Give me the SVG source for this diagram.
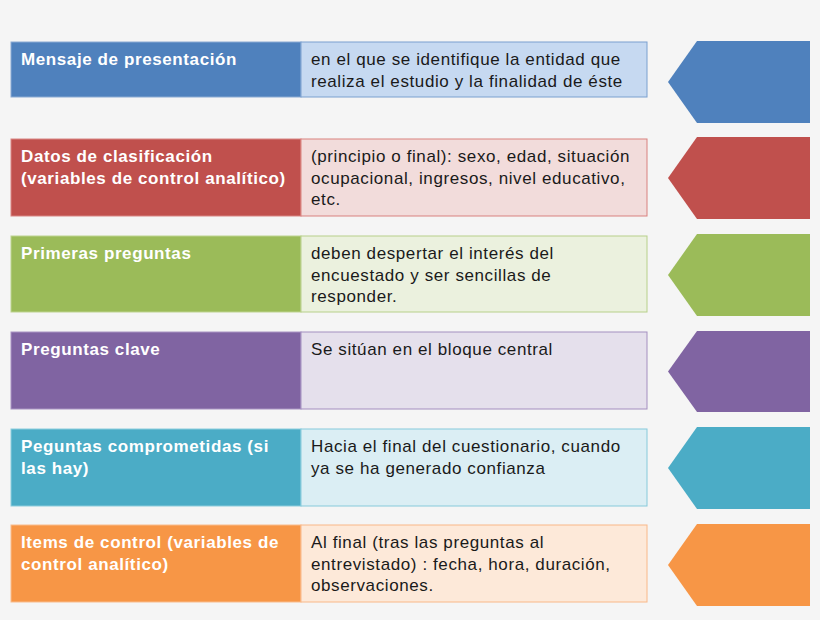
<svg xmlns="http://www.w3.org/2000/svg" width="820" height="620" viewBox="0 0 820 620">
<style>
.lbl{font-family:"Liberation Sans",Arial,sans-serif;font-size:17px;font-weight:bold;fill:#ffffff;letter-spacing:0.6px}
.txt{font-family:"Liberation Sans",Arial,sans-serif;font-size:17px;fill:#1a1a1a;letter-spacing:0.6px}
.b1{fill:#4F81BD}.l1{fill:#C6D9F1;stroke:#7BA0CF}
.b2{fill:#C0504D}.l2{fill:#F2DCDB;stroke:#D9817F}
.b3{fill:#9BBB59}.l3{fill:#EBF1DE;stroke:#B7D08A}
.b4{fill:#8064A2}.l4{fill:#E5E0EC;stroke:#A48FC0}
.b5{fill:#4BACC6}.l5{fill:#DBEEF4;stroke:#86CADB}
.b6{fill:#F79646}.l6{fill:#FDE9D9;stroke:#F9B888}
.lb{stroke-width:1}
</style>
<rect width="820" height="620" fill="#F5F5F5"/>
<g id="row1">
<rect class="b1" x="11" y="42" width="290" height="55" stroke="#8AAAD3" stroke-width="1"/>
<rect class="l1 lb" x="301" y="42" width="346" height="55"/>
<polygon class="b1" points="697,41 810,41 810,123 697,123 668,82"/>
<text class="lbl" x="21" y="65">Mensaje de presentación</text>
<text class="txt" x="311" y="65">en el que se identifique la entidad que</text>
<text class="txt" x="311" y="86.5">realiza el estudio y la finalidad de éste</text>
</g>
<g id="row2">
<rect class="b2" x="11" y="139" width="290" height="77" stroke="#D98583" stroke-width="1"/>
<rect class="l2 lb" x="301" y="139" width="346" height="77"/>
<polygon class="b2" points="697,137 810,137 810,219 697,219 668,178"/>
<text class="lbl" x="21" y="162">Datos de clasificación</text>
<text class="lbl" x="21" y="183.5">(variables de control analítico)</text>
<text class="txt" x="311" y="162">(principio o final): sexo, edad, situación</text>
<text class="txt" x="311" y="183.5">ocupacional, ingresos, nivel educativo,</text>
<text class="txt" x="311" y="205">etc.</text>
</g>
<g id="row3">
<rect class="b3" x="11" y="236" width="290" height="76" stroke="#BDD38F" stroke-width="1"/>
<rect class="l3 lb" x="301" y="236" width="346" height="76"/>
<polygon class="b3" points="697,234 810,234 810,316 697,316 668,275"/>
<text class="lbl" x="21" y="259">Primeras preguntas</text>
<text class="txt" x="311" y="259">deben despertar el interés del</text>
<text class="txt" x="311" y="280.5">encuestado y ser sencillas de</text>
<text class="txt" x="311" y="302">responder.</text>
</g>
<g id="row4">
<rect class="b4" x="11" y="332" width="290" height="77" stroke="#A994C3" stroke-width="1"/>
<rect class="l4 lb" x="301" y="332" width="346" height="77"/>
<polygon class="b4" points="697,331 810,331 810,412 697,412 668,371.5"/>
<text class="lbl" x="21" y="355">Preguntas clave</text>
<text class="txt" x="311" y="355">Se sitúan en el bloque central</text>
</g>
<g id="row5">
<rect class="b5" x="11" y="429" width="290" height="77" stroke="#8CCDDD" stroke-width="1"/>
<rect class="l5 lb" x="301" y="429" width="346" height="77"/>
<polygon class="b5" points="697,427 810,427 810,509 697,509 668,468"/>
<text class="lbl" x="21" y="452">Peguntas comprometidas (si</text>
<text class="lbl" x="21" y="473.5">las hay)</text>
<text class="txt" x="311" y="452">Hacia el final del cuestionario, cuando</text>
<text class="txt" x="311" y="473.5">ya se ha generado confianza</text>
</g>
<g id="row6">
<rect class="b6" x="11" y="525" width="290" height="77" stroke="#F9BC8C" stroke-width="1"/>
<rect class="l6 lb" x="301" y="525" width="346" height="77"/>
<polygon class="b6" points="697,524 810,524 810,606 697,606 668,565"/>
<text class="lbl" x="21" y="548">Items de control (variables de</text>
<text class="lbl" x="21" y="569.5">control analítico)</text>
<text class="txt" x="311" y="548">Al final (tras las preguntas al</text>
<text class="txt" x="311" y="569.5">entrevistado) : fecha, hora, duración,</text>
<text class="txt" x="311" y="591">observaciones.</text>
</g>
<g id="connectors"></g>
</svg>
